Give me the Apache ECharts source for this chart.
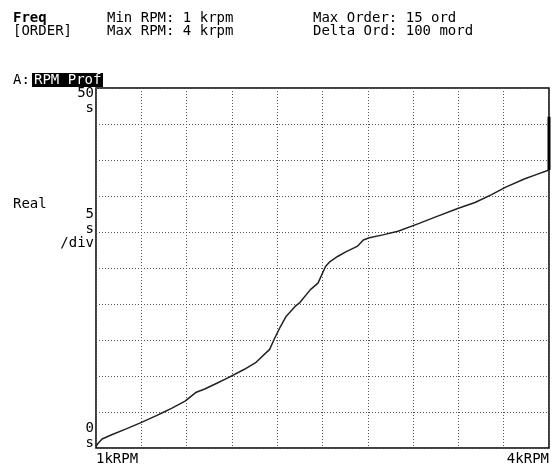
<!DOCTYPE html>
<html>
<head>
<meta charset="utf-8">
<script src="https://cdn.jsdelivr.net/npm/echarts@6/dist/echarts.min.js"></script>
<style>
html,body{margin:0;padding:0;background:#fff;}
#c{width:552px;height:466px;}
</style>
</head>
<body>
<div id="c"></div>
<script>
// Data (x: krpm, y: seconds)
var rpmKrpm = [1.00, 1.01, 1.04, 1.10, 1.20, 1.29, 1.40, 1.44, 1.50, 1.59, 1.66, 1.72, 1.80, 1.88, 1.98, 2.06, 2.15, 2.18, 2.22, 2.26, 2.32, 2.35, 2.42, 2.47, 2.52, 2.55, 2.60, 2.66, 2.73, 2.77, 2.81, 2.90, 3.00, 3.14, 3.25, 3.40, 3.51, 3.62, 3.71, 3.84, 3.92, 4.00];
var timeSec  = [0.2, 0.55, 1.25, 1.8, 2.65, 3.45, 4.5, 4.9, 5.5, 6.5, 7.7, 8.2, 9.0, 9.8, 10.9, 11.9, 13.7, 15.1, 16.8, 18.3, 19.7, 20.2, 22.0, 22.9, 25.2, 25.9, 26.6, 27.3, 28.0, 28.9, 29.2, 29.6, 30.1, 31.2, 32.1, 33.3, 34.1, 35.2, 36.2, 37.4, 38.0, 38.6];
var markerRpm = [4.0, 4.0];
var markerSec = [38.6, 46.0];
var xTickLabels = ['1kRPM', '4kRPM'];
var yLabelTop = ['50', 's'];
var yLabelMid = ['5', 's', '/div'];
var yLabelBottom = ['0', 's'];
var headerLeft = ['Freq', '[ORDER]'];
var headerMid = ['Min RPM: 1 krpm', 'Max RPM: 4 krpm'];
var headerRight = ['Max Order: 15 ord', 'Delta Ord: 100 mord'];

var curve = rpmKrpm.map(function (r, i) { return [r, timeSec[i]]; });
var marker = markerRpm.map(function (r, i) { return [r, markerSec[i]]; });

var FONT = '"DejaVu Sans Mono", "Liberation Mono", monospace';
var FS = 14;
var chart = echarts.init(document.getElementById('c'), null, {renderer: 'canvas'});

function txt(x, y, s, opt) {
  opt = opt || {};
  return {
    type: 'text', x: x, y: y, silent: true,
    style: {
      text: s, fill: opt.fill || '#000', font: (opt.bold ? 'bold ' : '') + (opt.size || FS) + 'px ' + FONT,
      textAlign: opt.align || 'left', textVerticalAlign: 'middle'
    }
  };
}

var graphics = [
  txt(13, 18, headerLeft[0], {bold: true}),
  txt(13, 31, headerLeft[1]),
  txt(107, 18, headerMid[0]),
  txt(107, 31, headerMid[1]),
  txt(313, 18, headerRight[0]),
  txt(313, 31, headerRight[1]),
  txt(13, 80, 'A:'),
  {type: 'rect', shape: {x: 32, y: 73, width: 71, height: 14}, style: {fill: '#000'}, silent: true},
  txt(34, 80, 'RPM Prof', {fill: '#fff'}),
  txt(94, 93, yLabelTop[0], {align: 'right'}),
  txt(94, 108, yLabelTop[1], {align: 'right'}),
  txt(13, 204, 'Real'),
  txt(94, 214, yLabelMid[0], {align: 'right'}),
  txt(94, 229, yLabelMid[1], {align: 'right'}),
  txt(94, 243, yLabelMid[2], {align: 'right'}),
  txt(94, 428, yLabelBottom[0], {align: 'right'}),
  txt(94, 443, yLabelBottom[1], {align: 'right'})
];

var option = {
  animation: false,
  backgroundColor: '#fff',
  grid: {left: 96, top: 88, width: 455, height: 361, show: true, borderColor: '#000', borderWidth: 1.5, backgroundColor: 'transparent'},
  xAxis: [
    {
      type: 'value', min: 1, max: 4,
      axisLine: {show: false}, axisTick: {show: false}, splitLine: {show: false},
      axisLabel: {
        show: true, margin: 4, color: '#000', fontFamily: FONT, fontSize: FS,
        showMinLabel: true, showMaxLabel: true,
        alignMinLabel: 'left', alignMaxLabel: 'right',
        formatter: function (v) {
          if (Math.abs(v - 1) < 1e-6) return xTickLabels[0];
          if (Math.abs(v - 4) < 1e-6) return xTickLabels[1];
          return '';
        }
      }
    },
    {
      type: 'value', min: 0, max: 10, interval: 1, position: 'top',
      axisLine: {show: false}, axisTick: {show: false}, axisLabel: {show: false},
      splitLine: {show: true, lineStyle: {color: '#555', width: 1, type: [1, 2]}}
    }
  ],
  yAxis: [{
    type: 'value', min: 0, max: 50, interval: 5,
    axisLine: {show: false}, axisTick: {show: false}, axisLabel: {show: false},
    splitLine: {show: true, lineStyle: {color: '#555', width: 1, type: [1, 2]}}
  }],
  series: [
    {
      type: 'line', xAxisIndex: 0, data: curve, symbol: 'none',
      lineStyle: {color: '#222', width: 1.5}
    },
    {
      type: 'line', xAxisIndex: 0, data: marker, symbol: 'none',
      lineStyle: {color: '#000', width: 3}
    }
  ],
  graphic: graphics
};
chart.setOption(option);
</script>
</body>
</html>
